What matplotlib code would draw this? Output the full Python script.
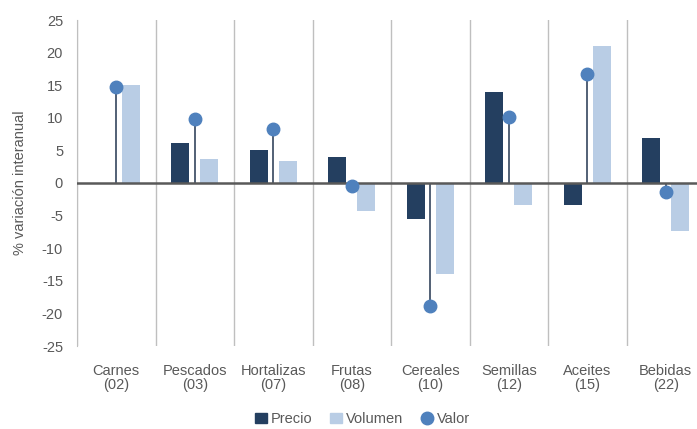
import numpy as np
from matplotlib import pyplot as plt
from matplotlib.lines import Line2D
from matplotlib.patches import Patch

plt.rcParams['font.family'] = ['Liberation Sans', 'DejaVu Sans']
plt.rcParams['axes.unicode_minus'] = False

categorias = ['Carnes\n(02)', 'Pescados\n(03)', 'Hortalizas\n(07)', 'Frutas\n(08)',
              'Cereales\n(10)', 'Semillas\n(12)', 'Aceites\n(15)', 'Bebidas\n(22)']
precio = [-0.2, 6.1, 5.0, 4.0, -5.5, 14.0, -3.3, 6.9]
volumen = [15.1, 3.7, 3.3, -4.3, -14.0, -3.3, 21.0, -7.4]
valor = [14.8, 9.8, 8.3, -0.5, -18.9, 10.1, 16.7, -1.4]

c_precio = '#243F60'
c_volumen = '#B9CDE5'
c_valor = '#4F81BD'
gris = '#595959'

fig = plt.figure(figsize=(6.97, 4.29), dpi=100)
ax = fig.add_axes([77/697, 1-346/429, 628/697, 326/429])

x = np.arange(len(categorias))
w = 0.235
off = 0.185
ax.bar(x - off, precio, w, color=c_precio, zorder=2)
ax.bar(x + off, volumen, w, color=c_volumen, zorder=2)
# piruletas para el valor
ax.vlines(x, 0, valor, color='#44546A', lw=1.3, zorder=3)
ax.plot(x, valor, 'o', color=c_valor, ms=9, zorder=4)

ax.axhline(0, color=gris, lw=1.8, zorder=3)
for b in np.arange(len(categorias) + 1) - 0.5:
    ax.axvline(b, color='#BFBFBF', lw=1, zorder=1)

ax.set_xlim(-0.5, len(categorias) - 0.5)
ax.set_ylim(-25, 25)
ax.set_yticks(range(-25, 26, 5))
ax.set_xticks(x)
ax.set_xticklabels(categorias, linespacing=1.0)
ax.tick_params(axis='both', length=0, labelsize=10.5, labelcolor=gris)
ax.tick_params(axis='x', pad=13)
ax.tick_params(axis='y', pad=10)
for s in ['top', 'right', 'bottom']:
    ax.spines[s].set_visible(False)
ax.spines['left'].set_color('#BFBFBF')
ax.set_ylabel('% variación interanual', fontsize=10.5, color=gris, labelpad=11)

handles = [Patch(color=c_precio), Patch(color=c_volumen),
           Line2D([], [], marker='o', ls='', color=c_valor, ms=9)]
fig.legend(handles, ['Precio', 'Volumen', 'Valor'], loc='center', ncol=3,
           bbox_to_anchor=(0.52, 1-419/429), frameon=False, fontsize=10.5,
           labelcolor=gris, handlelength=0.8, handletextpad=0.3, columnspacing=1.2)

fig.savefig('out.png', dpi=100)
